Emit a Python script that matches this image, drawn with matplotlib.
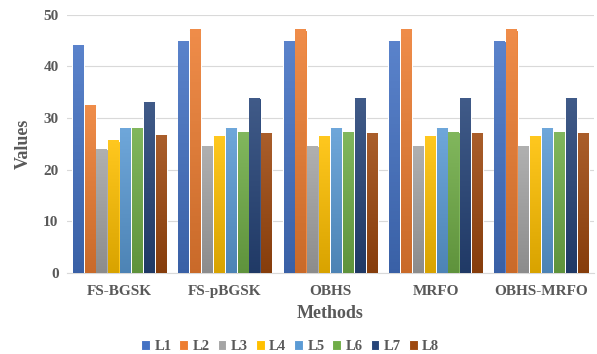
import numpy as np
import matplotlib.pyplot as plt
from matplotlib.colors import to_rgb

methods = ['FS-BGSK', 'FS-pBGSK', 'OBHS', 'MRFO', 'OBHS-MRFO']
series = ['L1', 'L2', 'L3', 'L4', 'L5', 'L6', 'L7', 'L8']

L1 = [44.0, 44.9, 44.9, 44.9, 44.9]
L2 = [32.4, 47.1, 47.1, 47.1, 47.1]
L3 = [24.0, 24.5, 24.5, 24.5, 24.5]
L4 = [25.6, 26.5, 26.5, 26.5, 26.5]
L5 = [28.0, 28.0, 28.0, 28.0, 28.0]
L6 = [28.0, 27.3, 27.3, 27.3, 27.3]
L7 = [33.1, 33.9, 33.9, 33.9, 33.9]
L8 = [26.7, 27.1, 27.1, 27.1, 27.1]
values = [L1, L2, L3, L4, L5, L6, L7, L8]

colors = ['#4472C4', '#ED7D31', '#A5A5A5', '#FFC000',
          '#5B9BD5', '#70AD47', '#264478', '#9E480E']

text_color = '#595959'
plt.rcParams['font.family'] = ['Liberation Serif', 'DejaVu Serif']
plt.rcParams['font.weight'] = 'bold'
plt.rcParams['axes.labelweight'] = 'bold'

fig = plt.figure(figsize=(5.97, 3.54), dpi=100)
ax = fig.add_axes([0.112, 0.229, 0.883, 0.729])

x = np.arange(len(methods))
group = 0.9
w = group / len(series)


def shade(c, f):
    # f > 0 lightens towards white, f < 0 darkens towards black
    c = np.array(to_rgb(c))
    return c + (1 - c) * f if f > 0 else c * (1 + f)


for i, (name, vals, col) in enumerate(zip(series, values, colors)):
    pos = x - group / 2 + w * (i + 0.5)
    bars = ax.bar(pos, vals, width=w, color=col, edgecolor='white',
                  linewidth=0.8, label=name, zorder=2)
    # vertical gradient fill, lighter at the top
    grad = np.linspace(0, 1, 64)[:, None]
    top, bot = shade(col, 0.12), shade(col, -0.15)
    img = (bot[None, None, :] * (1 - grad[..., None]) +
           top[None, None, :] * grad[..., None])
    for b in bars:
        x0, h = b.get_x(), b.get_height()
        ax.imshow(img, extent=[x0 + 0.006, x0 + w - 0.006, 0, h],
                  origin='lower', aspect='auto', zorder=3)

ax.set_xlim(-0.5, len(methods) - 0.5)
ax.set_ylim(0, 50)
ax.set_yticks(range(0, 51, 10))
ax.set_xticks(x)
ax.set_xticklabels(methods)
ax.grid(axis='y', color='#d9d9d9', linewidth=0.8, zorder=0)
ax.set_axisbelow(True)
for side in ['top', 'right', 'left']:
    ax.spines[side].set_visible(False)
ax.spines['bottom'].set_color('#d9d9d9')
ax.tick_params(length=0, labelsize=11, colors=text_color, pad=6)
ax.tick_params(axis='x', pad=9)

ax.set_xlabel('Methods', fontsize=13, color=text_color, labelpad=5)
ax.set_ylabel('Values', fontsize=13, color=text_color, labelpad=8)

handles, labels = ax.get_legend_handles_labels()
fig.legend(handles, labels, loc='lower center', ncol=8, frameon=False,
           bbox_to_anchor=(0.486, -0.035), fontsize=10.5, handlelength=0.6,
           handleheight=0.6, handletextpad=0.3, columnspacing=0.55,
           labelcolor=text_color)

fig.savefig('out.png', dpi=100)
